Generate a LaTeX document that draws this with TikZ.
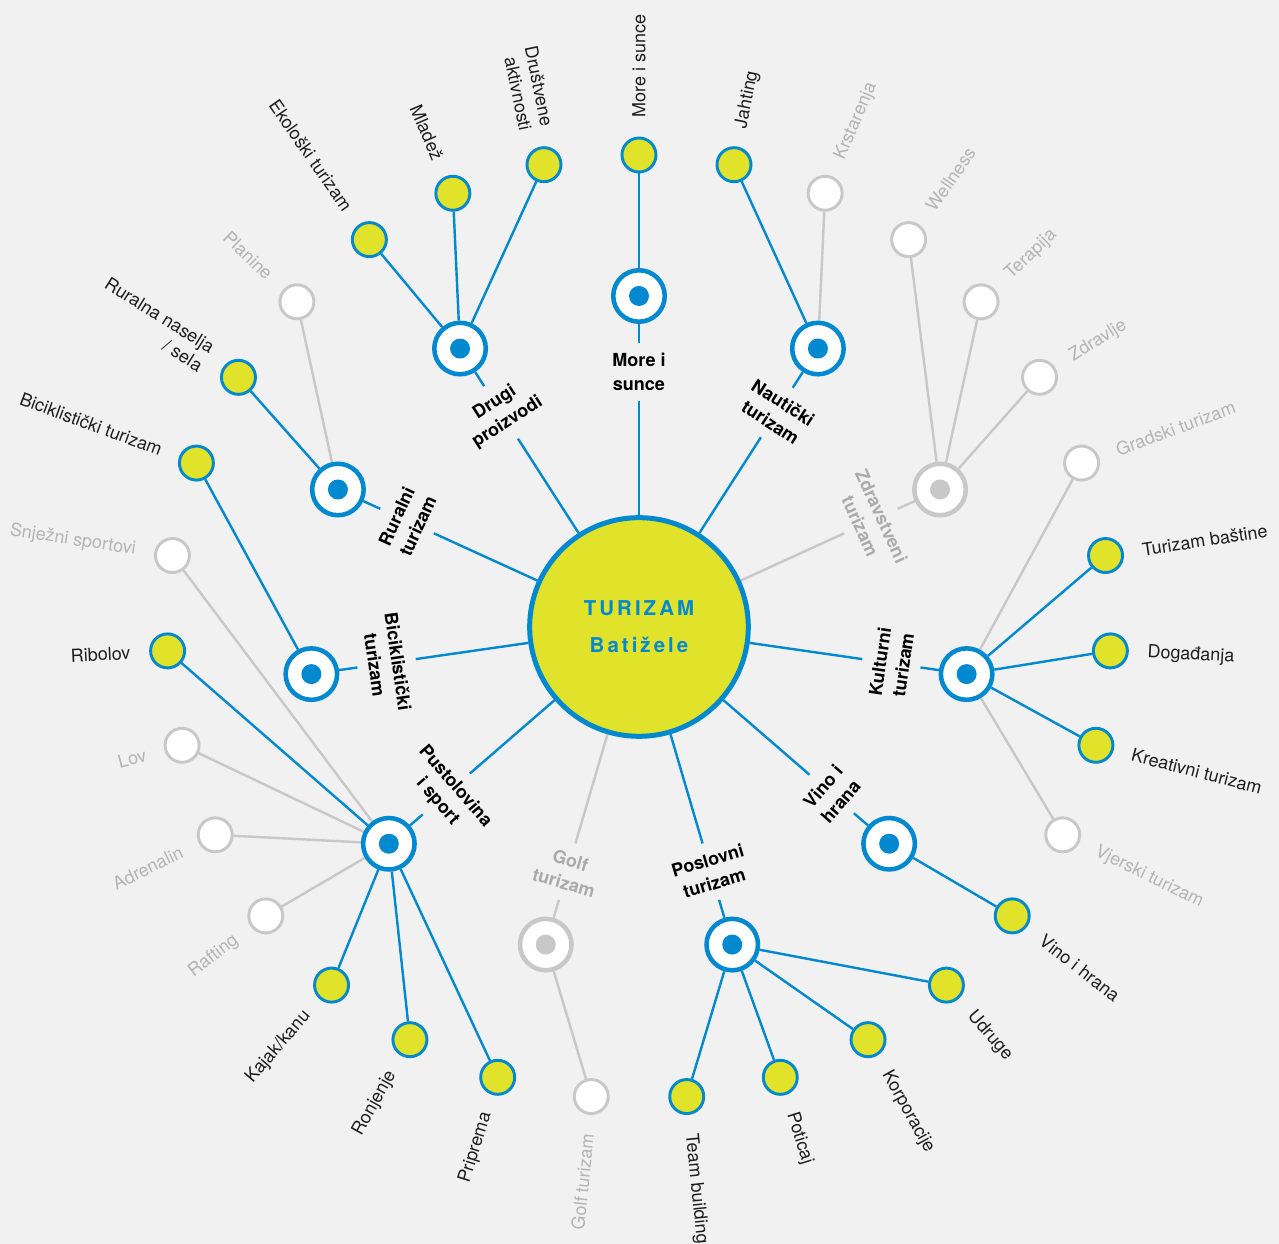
\documentclass[tikz,border=0pt]{standalone}
\usepackage{fontspec}
\setmainfont{TeX Gyre Heros}

\definecolor{bgcol}{HTML}{F1F1F1}
\definecolor{tblue}{HTML}{0089CF}
\definecolor{tyellow}{HTML}{E1E32B}
\definecolor{tgrey}{HTML}{C8C8C8}
\definecolor{tgreytext}{HTML}{B4B4B4}
\definecolor{tgreybold}{HTML}{ABABAB}
\definecolor{ink}{HTML}{1E1E1E}

\pgfdeclarelayer{back}
\pgfsetlayers{back,main}

\begin{document}
\begin{tikzpicture}[x=.75pt,y=.75pt,
  ctrnode/.style={circle,draw=tblue,line width=3.75pt,fill=tyellow,
    minimum size=164pt,inner sep=0pt,text=tblue,align=center,
    font=\fontsize{15.3}{27.75}\selectfont\bfseries\addfontfeature{LetterSpace=15}},
  hubon/.style={circle,draw=tblue,line width=3.4pt,fill=white,
    minimum size=38.6pt,inner sep=0pt,
    path picture={\fill[tblue] (path picture bounding box.center) circle (7.5pt);}},
  huboff/.style={circle,draw=tgrey,line width=3.4pt,fill=white,
    minimum size=38.6pt,inner sep=0pt,
    path picture={\fill[tgrey] (path picture bounding box.center) circle (7.5pt);}},
  leafon/.style={circle,draw=tblue,line width=2.2pt,fill=tyellow,
    minimum size=25.5pt,inner sep=0pt},
  leafoff/.style={leafon,draw=tgrey,fill=white},
  lineon/.style={draw=tblue,line width=1.8pt},
  lineoff/.style={draw=tgrey,line width=1.8pt},
  hlabon/.style={text=black,align=center,inner xsep=2pt,inner ysep=8pt,
    font=\fontsize{13.5}{17.5}\selectfont\bfseries},
  hlaboff/.style={hlabon,text=tgreybold},
  labon/.style={text=ink,align=right,inner sep=0pt,
    font=\fontsize{13.5}{16.5}\selectfont},
  laboff/.style={labon,text=tgreytext}]

\useasboundingbox (-639,-617) rectangle (640,627);
\begin{pgfonlayer}{back}
  \fill[bgcol] (-639,-617) rectangle (640,627);
\end{pgfonlayer}

\node[ctrnode] (ctr) at (0,0) {TURIZAM\\Batižele};

% eleven groups round the middle
\foreach \txt/\k [count=\j from 0] in {{More i\\sunce}/on,
    {Nautički\\turizam}/on, {Zdravstveni\\turizam}/off,
    {Kulturni\\turizam}/on, {Vino i\\hrana}/on, {Poslovni\\turizam}/on,
    {Golf\\turizam}/off, {Pustolovina\\i sport}/on,
    {Biciklistički\\turizam}/on, {Ruralni\\turizam}/on,
    {Drugi\\proizvodi}/on} {
  \pgfmathsetmacro\ang{90-\j*360/11}
  \pgfmathsetmacro\rot{mod(810-\j*360/11,180)-90}
  \node[hub\k] (hub\j) at (\ang:331) {};
  \node[hlab\k,rotate=\rot] (hlab\j) at (\ang:255) {\txt};
  \begin{pgfonlayer}{back}
    \draw[line\k] (ctr) -- (hlab\j);
    \draw[line\k] (hlab\j) -- (hub\j);
  \end{pgfonlayer}
}

% outer ring, clockwise from the top
\foreach \txt/\h/\k [count=\i from 0] in {{More i sunce}/0/on,
    Jahting/1/on, Krstarenja/1/off,
    Wellness/2/off, Terapija/2/off, Zdravlje/2/off,
    {Gradski turizam}/3/off, {Turizam baštine}/3/on, Događanja/3/on,
    {Kreativni turizam}/3/on, {Vjerski turizam}/3/off,
    {Vino i hrana}/4/on,
    Udruge/5/on, Korporacije/5/on, Poticaj/5/on, {Team building}/5/on,
    {Golf turizam}/6/off,
    Priprema/7/on, Ronjenje/7/on, {Kajak/kanu}/7/on, Rafting/7/off,
    Adrenalin/7/off, Lov/7/off, Ribolov/7/on, {Snježni sportovi}/7/off,
    {Biciklistički turizam}/8/on,
    {Ruralna naselja\\/ sela}/9/on, Planine/9/off,
    {Ekološki turizam}/10/on, Mladež/10/on, {Društvene\\aktivnosti}/10/on} {
  \pgfmathsetmacro\ang{90-\i*360/31}
  \node[leaf\k] (leaf\i) at (\ang:472) {};
  \ifdim\ang pt<-90pt
    \node[lab\k,anchor=east,rotate=\ang+180] (lab\i) at (\ang:509) {\txt};
  \else
    \node[lab\k,anchor=west,rotate=\ang] (lab\i) at (\ang:509) {\txt};
  \fi
  \begin{pgfonlayer}{back}
    \draw[line\k] (hub\h) -- (leaf\i);
  \end{pgfonlayer}
}
\end{tikzpicture}
\end{document}
